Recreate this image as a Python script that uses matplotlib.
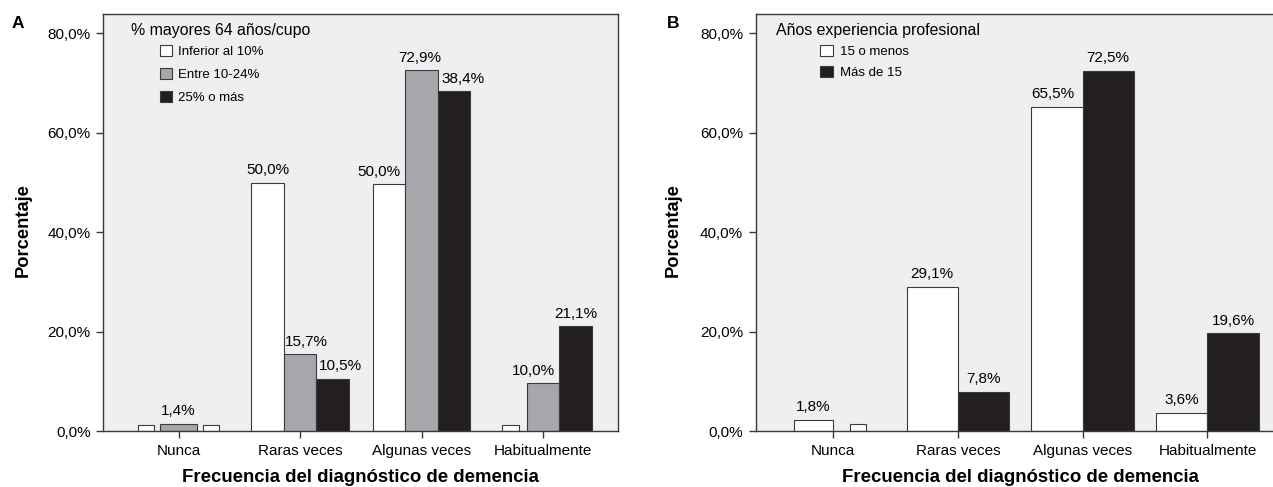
import numpy as np
import matplotlib.pyplot as plt
from matplotlib.patches import Patch

# ================= datos =================
categorias = ['Nunca', 'Raras veces', 'Algunas veces', 'Habitualmente']
ticks_y = [0, 20, 40, 60, 80]
ticks_y_txt = ['0,0%', '20,0%', '40,0%', '60,0%', '80,0%']

# Panel A: % mayores 64 años/cupo
a_titulo = '% mayores 64 años/cupo'
a_series = ['Inferior al 10%', 'Entre 10-24%', '25% o más']
a_inferior = [1.4, 50.0, 49.7, 1.4]
a_entre = [1.6, 15.5, 72.6, 9.7]
a_mas25 = [1.4, 10.6, 68.4, 21.1]
a_etq_inferior = ['', '50,0%', '50,0%', '']
a_etq_entre = ['1,4%', '15,7%', '72,9%', '10,0%']
a_etq_mas25 = ['', '10,5%', '38,4%', '21,1%']

# Panel B: años de experiencia profesional
b_titulo = 'Años experiencia profesional'
b_series = ['15 o menos', 'Más de 15']
b_menos15 = [2.4, 29.1, 65.3, 3.8]
b_mas15 = [1.6, 8.0, 72.5, 19.7]
b_etq_menos15 = ['1,8%', '29,1%', '65,5%', '3,6%']
b_etq_mas15 = ['', '7,8%', '72,5%', '19,6%']

# ================= estilo =================
plt.rcParams['font.family'] = ['Liberation Sans', 'DejaVu Sans']
plt.rcParams['font.size'] = 11

FONDO = '#efeff1'
BLANCO = '#ffffff'
GRIS = '#a6a7ab'
NEGRO = '#231f20'
BORDE = '#3a3a3a'

fig = plt.figure(figsize=(12.73, 4.87), dpi=100)
ax_a = fig.add_axes([0.0812, 0.114, 0.4045, 0.8573])
ax_b = fig.add_axes([0.5936, 0.114, 0.4157, 0.8573])


def preparar(ax):
    ax.set_facecolor(FONDO)
    ax.set_xlim(-0.62, 3.62)
    ax.set_ylim(0, 83.9)
    ax.set_xticks(np.arange(len(categorias)))
    ax.set_xticklabels(categorias, fontsize=11)
    ax.set_yticks(ticks_y)
    ax.set_yticklabels(ticks_y_txt, fontsize=11)
    ax.tick_params(axis='x', length=5, width=1, color=BORDE, pad=4)
    ax.tick_params(axis='y', length=4.7, width=1, color=BORDE, pad=4.3)
    for s in ax.spines.values():
        s.set_color(BORDE)
        s.set_linewidth(1.0)
    ax.text(-0.1565, 0.483, 'Porcentaje', transform=ax.transAxes, rotation=90,
            ha='center', va='center', fontsize=13.2, fontweight='bold')


def etiquetas(ax, xs, alturas, textos, desplaz):
    for x, h, t, d in zip(xs, alturas, textos, desplaz):
        if t:
            ax.annotate(t, (x, h), xytext=(d, 6), textcoords='offset points',
                        ha='center', va='baseline', fontsize=11)


x = np.arange(len(categorias))

# ---------- Panel A ----------
preparar(ax_a)
w = 0.267
# anchos / colores tal como salen en la figura original (barras pequeñas estrechas)
ancho_inf = [w / 2, w, w, w / 2]
ancho_ent = [0.31, w, w, w]
ancho_mas = [w / 2, w, w, w]
color_mas = [BLANCO, NEGRO, NEGRO, NEGRO]
ax_a.bar(x - w, a_inferior, width=ancho_inf, color=BLANCO, edgecolor=BORDE, linewidth=0.8)
ax_a.bar(x, a_entre, width=ancho_ent, color=GRIS, edgecolor=BORDE, linewidth=0.8)
ax_a.bar(x + w, a_mas25, width=ancho_mas, color=color_mas, edgecolor=BORDE, linewidth=0.8)

etiquetas(ax_a, x - w, a_inferior, a_etq_inferior, [0, 0, -7.6, 0])
etiquetas(ax_a, x, a_entre, a_etq_entre, [0, 4.3, -1.4, -7.2])
etiquetas(ax_a, x + w, a_mas25, a_etq_mas25, [0, 5.4, 6.5, 0])

ax_a.text(0.0532, 0.9497, a_titulo, transform=ax_a.transAxes, ha='left',
          va='baseline', fontsize=11.4)
h_a = [Patch(facecolor=c, edgecolor=BORDE, linewidth=0.8) for c in (BLANCO, GRIS, NEGRO)]
ax_a.legend(h_a, a_series, loc='upper left', bbox_to_anchor=(0.110, 0.926),
            frameon=False, fontsize=9.5, handlelength=0.9, handleheight=0.9,
            handletextpad=0.5, labelspacing=0.75, borderpad=0, borderaxespad=0)

# ---------- Panel B ----------
preparar(ax_b)
wb = 0.41
ancho_m15 = [0.313, wb, wb, wb]
despl_m15 = [0.049, 0, 0, 0]
ancho_M15 = [0.128, wb, wb, wb]
despl_M15 = [-0.007, 0, 0, 0]
color_M15 = [BLANCO, NEGRO, NEGRO, NEGRO]
ax_b.bar(x - wb / 2 + np.array(despl_m15), b_menos15, width=ancho_m15, color=BLANCO,
         edgecolor=BORDE, linewidth=0.8)
ax_b.bar(x + wb / 2 + np.array(despl_M15), b_mas15, width=ancho_M15, color=color_M15,
         edgecolor=BORDE, linewidth=0.8)

etiquetas(ax_b, x - wb / 2 + np.array(despl_m15), b_menos15, b_etq_menos15, [0, 0, -2.9, 0])
etiquetas(ax_b, x + wb / 2, b_mas15, b_etq_mas15, [0, 0, 0, 0])

ax_b.text(0.0393, 0.9497, b_titulo, transform=ax_b.transAxes, ha='left',
          va='baseline', fontsize=11.4)
h_b = [Patch(facecolor=c, edgecolor=BORDE, linewidth=0.8) for c in (BLANCO, NEGRO)]
ax_b.legend(h_b, b_series, loc='upper left', bbox_to_anchor=(0.1224, 0.926),
            frameon=False, fontsize=9.5, handlelength=0.95, handleheight=0.95,
            handletextpad=0.5, labelspacing=0.6, borderpad=0, borderaxespad=0)

# ---------- textos de figura ----------
for ax in (ax_a, ax_b):
    pos = ax.get_position()
    fig.text((pos.x0 + pos.x1) / 2, 5.0 / 487, 'Frecuencia del diagnóstico de demencia',
             ha='center', va='baseline', fontsize=13.4, fontweight='bold')
fig.text(12 / 1273, 1 - 28 / 487, 'A', ha='left', va='baseline', fontsize=12.5, fontweight='bold')
fig.text(667 / 1273, 1 - 28 / 487, 'B', ha='left', va='baseline', fontsize=12.5, fontweight='bold')

fig.savefig('out.png', dpi=100, facecolor='white')
